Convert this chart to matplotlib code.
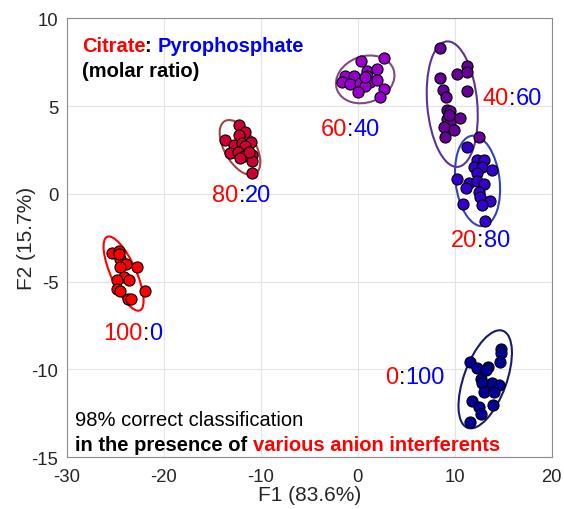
import matplotlib
matplotlib.use('Agg')
import matplotlib.pyplot as plt
import numpy as np
from matplotlib.patches import Ellipse
from matplotlib.transforms import Affine2D

plt.rcParams['font.family'] = ['Liberation Sans', 'DejaVu Sans']
plt.rcParams['axes.unicode_minus'] = False

# scores F1/F2 for each molar ratio (citrate : pyrophosphate)
ratio_citrate = ['100', '80', '60', '40', '20', '0']
ratio_pyro = ['0', '20', '40', '60', '80', '100']

f1_100_0 = [-25.34, -24.56, -24.48, -23.87, -24.48, -22.76, -24.14, -24.83, -23.63, -24.83, -24.48, -23.73, -23.38, -21.91, -24.66]
f2_100_0 = [-3.36, -3.26, -3.73, -3.98, -4.15, -4.15, -4.71, -4.90, -4.90, -5.39, -5.52, -6.00, -6.00, -5.52, -3.45]

f1_80_20 = [-12.29, -11.60, -12.29, -13.66, -12.80, -11.94, -11.01, -11.60, -13.14, -12.39, -11.77, -12.11, -10.91, -10.91, -10.91, -11.26]
f2_80_20 = [3.90, 3.52, 3.34, 3.05, 2.77, 2.87, 2.96, 2.71, 2.30, 2.39, 2.15, 2.02, 2.21, 1.88, 1.20, 2.39]

f1_60_40 = [0.33, 2.66, 0.95, 1.98, -1.29, -0.43, 0.95, -1.63, -0.77, 0.26, 1.29, 1.98, 0.77, -0.02, 2.66, 2.32, 0.77]
f2_60_40 = [7.58, 7.73, 7.01, 7.11, 6.73, 6.73, 6.73, 6.35, 6.26, 6.30, 6.35, 6.49, 6.17, 5.79, 5.98, 5.54, 6.64]

f1_40_60 = [8.51, 11.26, 10.23, 11.26, 8.51, 8.78, 9.12, 11.26, 9.20, 9.46, 9.20, 10.50, 9.54, 8.85, 9.88, 9.02, 12.45, 9.36]
f2_40_60 = [8.33, 7.30, 6.83, 6.92, 6.60, 5.92, 5.54, 5.88, 4.75, 4.71, 4.28, 4.34, 4.03, 3.81, 3.62, 3.24, 3.24, 4.47]

f1_20_80 = [11.26, 12.29, 12.97, 11.94, 12.80, 13.84, 12.29, 10.23, 11.43, 12.29, 13.04, 11.19, 12.45, 12.56, 13.59, 12.80, 10.84, 13.14]
f2_20_80 = [2.68, 1.92, 1.92, 1.55, 1.55, 1.36, 1.17, 0.85, 0.60, 0.74, 0.55, 0.36, 0.13, -0.15, -0.43, -0.62, -0.58, -1.53]

f1_0_100 = [14.76, 14.76, 14.69, 11.53, 12.29, 13.38, 12.70, 12.80, 13.84, 14.52, 12.97, 14.00, 11.77, 12.45, 13.94, 12.70, 11.53, 13.25]
f2_0_100 = [-8.82, -9.07, -9.58, -9.58, -9.90, -9.86, -10.52, -10.77, -10.77, -10.86, -11.27, -11.31, -11.80, -12.16, -12.03, -12.54, -12.97, -10.05]

# confidence ellipses: centre (data), semi axes in F1 units, angle on screen
ell_cx = [-24.14, -12.14, 0.77, 9.74, 12.35, 13.14]
ell_cy = [-4.54, 2.64, 6.52, 5.11, 0.74, -10.56]
ell_a = [4.15, 3.14, 3.09, 6.49, 4.69, 5.32]
ell_b = [1.30, 1.60, 2.37, 2.58, 2.27, 2.20]
ell_ang = [-66, -60, 20, 95, 97, 70]

# label positions of the ratio text (right edge of the citrate part)
lab_x = [-22.2, -12.3, -1.1, 15.6, 12.3, 4.2]
lab_y = [-7.9, -0.05, 3.7, 5.45, -2.65, -10.4]

xs = [f1_100_0, f1_80_20, f1_60_40, f1_40_60, f1_20_80, f1_0_100]
ys = [f2_100_0, f2_80_20, f2_60_40, f2_40_60, f2_20_80, f2_0_100]
point_colors = ['#FF0000', '#CC0033', '#9900CC', '#660099', '#3300CC', '#000099']
ellipse_colors = ['#FF0000', '#A04848', '#844A80', '#5C3399', '#3344BB', '#1A1A70']

fig = plt.figure(figsize=(5.64, 5.10), dpi=100)
ax = fig.add_axes([0.1183, 0.1014, 0.86, 0.8608])
ax.set_xlim(-30, 20)
ax.set_ylim(-15, 10)
ax.set_xticks([-30, -20, -10, 0, 10, 20])
ax.set_yticks([-15, -10, -5, 0, 5, 10])
ax.grid(True, color='#E3E3E3', linewidth=0.8)
ax.set_axisbelow(True)
for s in ax.spines.values():
    s.set_color('#8C8C8C')
    s.set_linewidth(0.8)
ax.tick_params(direction='in', length=0, labelsize=13.3, colors='#262626')
ax.tick_params(axis='x', pad=8)
ax.tick_params(axis='y', pad=6)
ax.set_xlabel('F1 (83.6%)', fontsize=15, color='#262626', labelpad=0)
ax.set_ylabel('F2 (15.7%)', fontsize=15, color='#262626', labelpad=-3)

# y data units per x data unit on screen
bbox = ax.get_position()
ax_w = bbox.width * fig.get_figwidth()
ax_h = bbox.height * fig.get_figheight()
k = (ax_w / 50) / (ax_h / 25)

for i in range(6):
    e = Ellipse((0, 0), 2 * ell_a[i], 2 * ell_b[i], angle=ell_ang[i], fill=False,
                edgecolor=ellipse_colors[i], linewidth=1.5)
    e.set_transform(Affine2D().scale(1, k).translate(ell_cx[i], ell_cy[i]) + ax.transData)
    ax.add_patch(e)

for i in range(6):
    ax.scatter(xs[i], ys[i], s=64, c=point_colors[i], edgecolors='black', linewidths=0.8, zorder=3)

# ratio labels, red : blue
for i in range(6):
    t1 = ax.text(lab_x[i], lab_y[i], ratio_citrate[i], color='#FF0000', fontsize=17, ha='right', va='center')
    t2 = ax.annotate(':', xycoords=t1, xy=(1, 0), va='bottom', fontsize=17, color='black')
    ax.annotate(ratio_pyro[i], xycoords=t2, xy=(1, 0), va='bottom', fontsize=17, color='#0000FF')

# header text
t = ax.text(0.031, 0.939, 'Citrate', transform=ax.transAxes, color='#FF0000', fontsize=14.5,
            fontweight='bold', va='center')
t = ax.annotate(': ', xycoords=t, xy=(1, 0), va='bottom', fontsize=14.5, fontweight='bold', color='black')
ax.annotate('Pyrophosphate', xycoords=t, xy=(1, 0), va='bottom', fontsize=14.5, fontweight='bold', color='#0000FF')
ax.text(0.031, 0.882, '(molar ratio)', transform=ax.transAxes, color='black', fontsize=14.5,
        fontweight='bold', va='center')

# bottom text
ax.text(0.017, 0.085, '98% correct classification', transform=ax.transAxes, color='black',
        fontsize=14.5, va='center')
t = ax.text(0.017, 0.03, 'in the presence of ', transform=ax.transAxes, color='black',
            fontsize=14.5, fontweight='bold', va='center')
ax.annotate('various anion interferents', xycoords=t, xy=(1, 0), va='bottom', fontsize=14.5,
            fontweight='bold', color='#FF0000')

fig.savefig('out.png', dpi=100)
